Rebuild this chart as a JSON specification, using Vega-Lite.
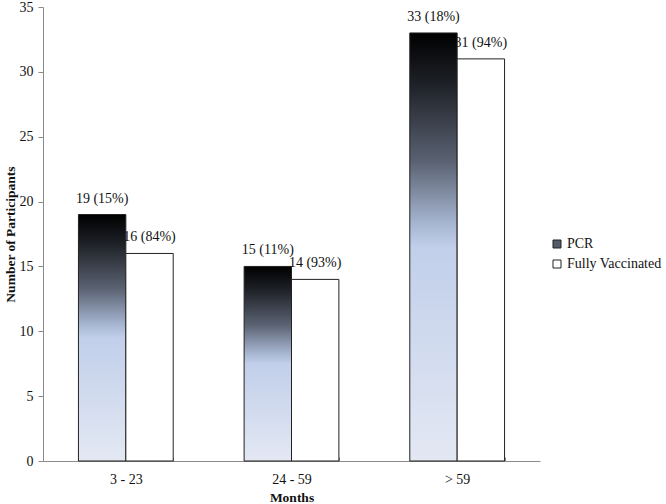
{
  "$schema": "https://vega.github.io/schema/vega-lite/v6.json",
  "autosize": "none",
  "width": 497,
  "height": 454,
  "padding": {"left": 43, "top": 7, "right": 126, "bottom": 43},
  "background": "white",
  "config": {
    "view": {"stroke": null},
    "font": "Liberation Serif",
    "text": {"font": "Liberation Serif"},
    "legend": {"labelFont": "Liberation Serif"},
    "axis": {"labelFont": "Liberation Serif", "titleFont": "Liberation Serif", "labelFontSize": 14, "titleFontSize": 13.5, "labelColor": "#111", "titleColor": "#111", "domainColor": "#8a8a8a", "tickColor": "#8a8a8a", "grid": false}
  },
  "data": {
    "values": [
      {"group": "3 - 23", "series": "PCR", "value": 19, "label": "19 (15%)"},
      {"group": "3 - 23", "series": "Fully Vaccinated", "value": 16, "label": "16 (84%)"},
      {"group": "24 - 59", "series": "PCR", "value": 15, "label": "15 (11%)"},
      {"group": "24 - 59", "series": "Fully Vaccinated", "value": 14, "label": "14 (93%)"},
      {"group": "> 59", "series": "PCR", "value": 33, "label": "33 (18%)"},
      {"group": "> 59", "series": "Fully Vaccinated", "value": 31, "label": "31 (94%)"}
    ]
  },
  "encoding": {
    "x": {
      "field": "group", "type": "nominal", "sort": ["3 - 23", "24 - 59", "> 59"],
      "scale": {"paddingInner": 0.428, "paddingOuter": 0.214},
      "axis": {"title": "Months", "titleFontWeight": "bold", "labelAngle": 0, "tickBand": "extent", "tickSize": -4, "labelPadding": 15, "titlePadding": 4}
    },
    "xOffset": {"field": "series", "type": "nominal", "sort": ["PCR", "Fully Vaccinated"], "scale": {"paddingInner": 0, "paddingOuter": 0}},
    "y": {
      "field": "value", "type": "quantitative",
      "scale": {"domain": [0, 35]},
      "axis": {"title": "Number of Participants", "titleFontWeight": "bold", "values": [0, 5, 10, 15, 20, 25, 30, 35], "tickSize": 5, "labelPadding": 5, "titlePadding": 2}
    }
  },
  "layer": [
    {
      "mark": {"type": "bar", "stroke": "#222", "strokeWidth": 1},
      "encoding": {
        "fill": {
          "condition": {"test": "datum.series === 'PCR'", "value": {"gradient": "linear", "x1": 0, "y1": 0, "x2": 0, "y2": 1, "stops": [
                {"offset": 0, "color": "#000000"},
                {"offset": 0.12, "color": "#1e2127"},
                {"offset": 0.3, "color": "#5a6272"},
                {"offset": 0.44, "color": "#a3b2cd"},
                {"offset": 0.5, "color": "#c1cfea"},
                {"offset": 1, "color": "#e3e8f3"}
              ]}},
          "field": "series", "type": "nominal",
          "scale": {"domain": ["PCR", "Fully Vaccinated"], "range": ["#555b66", "#ffffff"]},
          "legend": {
            "title": null, "orient": "none", "legendX": 507, "legendY": 230,
            "symbolType": "square", "symbolSize": 64, "symbolStrokeColor": "#222", "symbolStrokeWidth": 1,
            "labelFontSize": 14, "labelColor": "#111", "rowPadding": 6, "labelOffset": 3,
            "encode": {"symbols": {"update": {
              "stroke": {"value": "#222"},
              "strokeWidth": {"value": 1},
              "opacity": {"value": 1},
              "fill": [
              {"test": "datum.value === 'PCR'", "value": {"gradient": "linear", "x1": 0, "y1": 0, "x2": 0, "y2": 1, "stops": [
                {"offset": 0, "color": "#000000"},
                {"offset": 0.5, "color": "#5c6474"},
                {"offset": 1, "color": "#c3d1ec"}
              ]}},
              {"value": "#ffffff"}
            ]}}}
          }
        }
      }
    },
    {
      "mark": {"type": "text", "baseline": "bottom", "dy": -9, "fontSize": 14, "color": "#111"},
      "encoding": {"text": {"field": "label"}}
    }
  ]
}
